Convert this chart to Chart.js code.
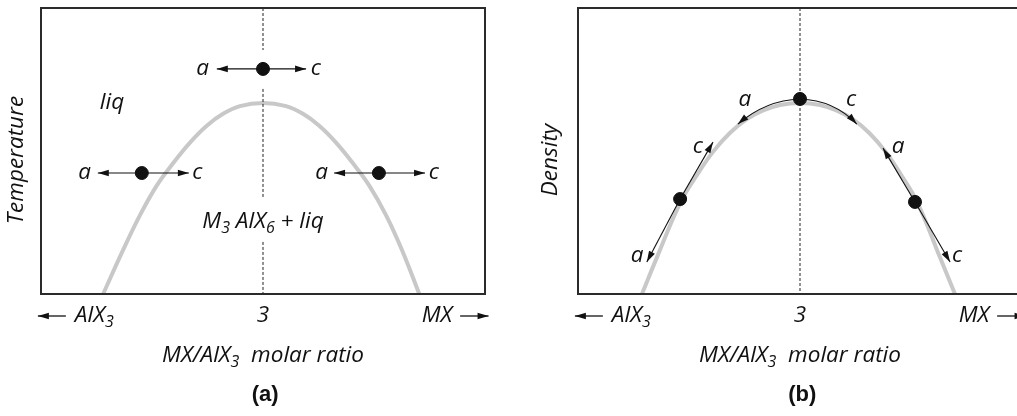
<!DOCTYPE html>
<html>
<head>
<meta charset="utf-8">
<script src="https://cdn.jsdelivr.net/npm/chart.js@4/dist/chart.umd.min.js"></script>
<style>
    html, body { margin: 0; padding: 0; background: #fff; overflow: hidden; }
    #wrap { position: relative; width: 1017px; height: 416px; overflow: hidden; }
    .panel { position: absolute; top: 0; width: 537px; height: 416px; }
</style>
</head>
<body>
<div id="wrap">
    <div class="panel" style="left:0"><canvas id="chartA"></canvas></div>
    <div class="panel" style="left:537px"><canvas id="chartB"></canvas></div>
</div>
<script>
// (a) liquidus curve, composition axis 0..100, ratio 3 at x = 50
const liquidusX = [14.0, 18.5, 22.3, 26.1, 29.7, 33.6, 37.4, 41.0, 44.8, 50.0, 55.2, 59.0, 62.6, 66.4, 70.3, 73.9, 77.7, 81.3, 85.2];
const liquidusY = [0, 15.4, 27.6, 38.0, 45.6, 53.0, 58.9, 63.0, 65.7, 66.8, 65.7, 63.0, 58.9, 53.0, 45.6, 38.0, 27.6, 15.4, 0];
const statePointsA = [[50, 78.7], [22.7, 42.3], [76.1, 42.3]];
// arrows: [fromX, fromY, toX, toY]
const arrowsA = [
    [50, 78.7, 39.6, 78.7], [50, 78.7, 59.7, 78.7],
    [22.7, 42.3, 12.8, 42.3], [22.7, 42.3, 33.3, 42.3],
    [76.1, 42.3, 66.0, 42.3], [76.1, 42.3, 86.5, 42.3],
];
const labelsA = [
    [36.4, 78.7, "a"], [61.9, 78.7, "c"],
    [9.8, 42.3, "a"], [35.2, 42.3, "c"],
    [63.2, 42.3, "a"], [88.5, 42.3, "c"],
    [16.0, 67.1, "liq"],
    [50, 25.2, "M_3 AlX_6 + liq"],
];
// dashed line at ratio 3, broken around the labels
const dashA = [[50, 100], [50, 85.3], [50, null], [50, 71.7], [50, 33.9], [50, null], [50, 18.2], [50, 0]];

// (b) density curve
const densityX = [14.4, 17.8, 23.0, 26.8, 30.4, 34.2, 38.1, 41.7, 45.5, 50.0, 54.5, 58.2, 61.8, 65.6, 69.3, 72.8, 76.5, 81.5, 84.9];
const densityY = [0, 12.9, 31.8, 41.6, 49.7, 56.3, 61.2, 64.2, 66.1, 66.8, 66.1, 64.2, 61.2, 56.3, 49.7, 41.6, 31.8, 12.9, 0];
const statePointsB = [[50, 68.2], [23.0, 33.2], [75.9, 32.2]];
// straight arrows [fromX, fromY, toX, toY], curved ones add a control point
const arrowsB = [
    [23.0, 33.2, 30.4, 53.1], [23.0, 33.2, 15.5, 11.2],
    [75.9, 32.2, 68.7, 51.0], [75.9, 32.2, 83.8, 11.2],
];
const curvedArrowsB = [
    [50, 68.2, 42.3, 67.8, 36.0, 59.4],
    [50, 68.2, 57.7, 67.8, 62.8, 59.4],
];
const labelsB = [
    [27.0, 51.4, "c"], [13.3, 13.3, "a"],
    [72.1, 51.4, "a"], [85.4, 13.3, "c"],
    [37.6, 67.8, "a"], [61.5, 67.8, "c"],
];
const dashB = [[50, 100], [50, 0]];

// x axis captions
const xTicks = [[12.0, "AlX_3"], [50, "3"], [89.2, "MX"]];
const xTitle = "MX/AlX_3  molar ratio";

const FONT = "'Open Sans', sans-serif";
const SIZE = 22.5;

function toXY(arr) {
    return arr.map((p) => ({ x: p[0], y: p[1] }));
}

function zipXY(xs, ys) {
    return xs.map((x, i) => ({ x: x, y: ys[i] }));
}

// draw text with "_n" as subscript, centered on x
function richText(ctx, str, x, y, size) {
    const parts = str.split(/(_\d)/).filter((s) => s !== "");
    const big = "italic " + size + "px " + FONT;
    const small = "italic " + Math.round(size * 0.72) + "px " + FONT;
    let w = 0;
    parts.forEach((p) => {
        ctx.font = p[0] === "_" ? small : big;
        w += ctx.measureText(p[0] === "_" ? p.slice(1) : p).width;
    });
    let cx = x - w / 2;
    ctx.textAlign = "left";
    ctx.textBaseline = "middle";
    parts.forEach((p) => {
        if (p[0] === "_") {
            ctx.font = small;
            ctx.fillText(p.slice(1), cx, y + size * 0.3);
            cx += ctx.measureText(p.slice(1)).width;
        } else {
            ctx.font = big;
            ctx.fillText(p, cx, y);
            cx += ctx.measureText(p).width;
        }
    });
    return w;
}

function arrowHead(ctx, x0, y0, x1, y1) {
    const ang = Math.atan2(y1 - y0, x1 - x0);
    const L = 11, W = 3.3;
    const bx = x1 - L * Math.cos(ang), by = y1 - L * Math.sin(ang);
    ctx.beginPath();
    ctx.moveTo(x1, y1);
    ctx.lineTo(bx + W * Math.sin(ang), by - W * Math.cos(ang));
    ctx.lineTo(bx - W * Math.sin(ang), by + W * Math.cos(ang));
    ctx.closePath();
    ctx.fill();
}

const diagramPlugin = {
    id: "diagram",
    afterDatasetDraw(chart, args, opts) {
        if (args.index !== 1) return;
        const { ctx, scales } = chart;
        const px = (v) => scales.x.getPixelForValue(v);
        const py = (v) => scales.y.getPixelForValue(v);
        ctx.save();
        ctx.strokeStyle = "#111";
        ctx.fillStyle = "#111";
        ctx.lineWidth = 1.1;
        opts.arrows.forEach((a) => {
            ctx.beginPath();
            ctx.moveTo(px(a[0]), py(a[1]));
            ctx.lineTo(px(a[2]), py(a[3]));
            ctx.stroke();
            arrowHead(ctx, px(a[0]), py(a[1]), px(a[2]), py(a[3]));
        });
        opts.curved.forEach((a) => {
            ctx.beginPath();
            ctx.moveTo(px(a[0]), py(a[1]));
            ctx.quadraticCurveTo(px(a[2]), py(a[3]), px(a[4]), py(a[5]));
            ctx.stroke();
            arrowHead(ctx, px(a[2]), py(a[3]), px(a[4]), py(a[5]));
        });
        ctx.restore();
    },
    afterDraw(chart, args, opts) {
        const { ctx, chartArea: area, scales } = chart;
        const px = (v) => scales.x.getPixelForValue(v);
        const py = (v) => scales.y.getPixelForValue(v);
        ctx.save();
        // frame
        ctx.strokeStyle = "#2b2b2b";
        ctx.lineWidth = 2;
        ctx.strokeRect(area.left, area.top, area.right - area.left, area.bottom - area.top);

        ctx.fillStyle = "#111";
        opts.labels.forEach((l) => richText(ctx, l[2], px(l[0]), py(l[1]), SIZE));

        // x captions
        const ty = area.bottom + 22;
        xTicks.forEach((t) => richText(ctx, t[1], px(t[0]), ty, SIZE));
        ctx.strokeStyle = "#111";
        ctx.lineWidth = 1.3;
        const side = [[5.6, -0.7], [94.4, 100.8]];
        side.forEach((s) => {
            ctx.beginPath();
            ctx.moveTo(px(s[0]), ty);
            ctx.lineTo(px(s[1]), ty);
            ctx.stroke();
            arrowHead(ctx, px(s[0]), ty, px(s[1]), ty);
        });
        richText(ctx, xTitle, px(50), area.bottom + 62, SIZE);

        // panel letter
        ctx.font = "bold 22px 'Liberation Sans', Arial, sans-serif";
        ctx.textAlign = "center";
        ctx.textBaseline = "middle";
        ctx.fillText(opts.letter, px(50.5), area.bottom + 101);

        // y title
        ctx.translate(area.left - opts.yTitleGap, area.top + 152);
        ctx.rotate(-Math.PI / 2);
        richText(ctx, opts.yTitle, 0, 0, SIZE);
        ctx.restore();
    },
};

function makePanel(id, curve, points, dash, extra) {
    return new Chart(document.getElementById(id), {
        type: "scatter",
        data: {
            datasets: [
                {
                    data: toXY(points),
                    backgroundColor: "#111",
                    borderColor: "#111",
                    pointRadius: 6.5,
                    order: 1,
                },
                {
                    type: "line",
                    data: toXY(dash),
                    borderColor: "#222",
                    borderWidth: 1,
                    borderDash: [3, 2],
                    pointRadius: 0,
                    spanGaps: false,
                    order: 2,
                },
                {
                    type: "line",
                    data: curve,
                    borderColor: "#c8c8c8",
                    borderWidth: 4,
                    pointRadius: 0,
                    tension: 0.4,
                    order: 3,
                },
            ],
        },
        options: {
            responsive: true,
            maintainAspectRatio: false,
            animation: false,
            layout: { padding: { left: 41, top: 8, right: 52, bottom: 122 } },
            scales: {
                x: { type: "linear", min: 0, max: 100, display: false },
                y: { type: "linear", min: 0, max: 100, display: false },
            },
            plugins: {
                legend: { display: false },
                tooltip: { enabled: false },
                diagram: extra,
            },
        },
        plugins: [diagramPlugin],
    });
}

makePanel("chartA", zipXY(liquidusX, liquidusY), statePointsA, dashA, {
    arrows: arrowsA,
    curved: [],
    labels: labelsA,
    letter: "(a)",
    yTitle: "Temperature",
    yTitleGap: 24,
});

makePanel("chartB", zipXY(densityX, densityY), statePointsB, dashB, {
    arrows: arrowsB,
    curved: curvedArrowsB,
    labels: labelsB,
    letter: "(b)",
    yTitle: "Density",
    yTitleGap: 27,
});
</script>
</body>
</html>
